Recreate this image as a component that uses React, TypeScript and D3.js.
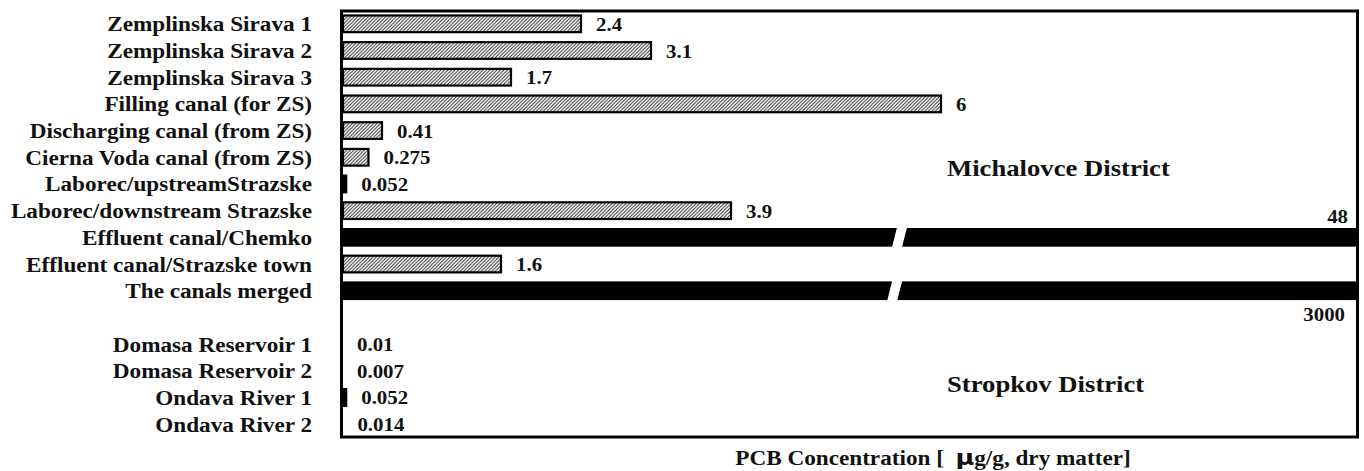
import React, { useEffect } from "react";
import * as d3 from "d3";

// ---- data ----
const michalovceSites = [
  "Zemplinska Sirava 1",
  "Zemplinska Sirava 2",
  "Zemplinska Sirava 3",
  "Filling canal (for ZS)",
  "Discharging canal (from ZS)",
  "Cierna Voda canal (from ZS)",
  "Laborec/upstreamStrazske",
  "Laborec/downstream Strazske",
  "Effluent canal/Chemko",
  "Effluent canal/Strazske town",
  "The canals merged",
];
const michalovceValues = [2.4, 3.1, 1.7, 6, 0.41, 0.275, 0.052, 3.9, 48, 1.6, 3000];
const michalovceLabels = ["2.4", "3.1", "1.7", "6", "0.41", "0.275", "0.052", "3.9", "48", "1.6", "3000"];

const stropkovSites = ["Domasa Reservoir 1", "Domasa Reservoir 2", "Ondava River 1", "Ondava River 2"];
const stropkovValues = [0.01, 0.007, 0.052, 0.014];
const stropkovLabels = ["0.01", "0.007", "0.052", "0.014"];

const districtNames = ["Michalovce District", "Stropkov District"];
const axisTitleParts = ["PCB Concentration [  ", "\u00b5", "g/g, dry matter]"];

const xDomainMax = 10.15;
const breakValue = 5.575;

const W = 1364;
const H = 471;
const FONT = "'Liberation Serif', 'Times New Roman', serif";
const SX = 1.16;
const GAP = "__gap__";

export default function App() {
  useEffect(() => {
    document.body.style.margin = "0";
  }, []);

  const rows = [
    ...michalovceSites.map((s, i) => ({ site: s, value: michalovceValues[i], label: michalovceLabels[i] })),
    ...stropkovSites.map((s, i) => ({ site: s, value: stropkovValues[i], label: stropkovLabels[i] })),
  ];
  const domain = [...michalovceSites, GAP, ...stropkovSites];

  const left = 342;
  const right = 1357;
  const top = 11;
  const bottom = 437;

  const x = d3.scaleLinear().domain([0, xDomainMax]).range([left, right]).clamp(true);
  const y = d3.scaleBand<string>().domain(domain).range([top, bottom]).paddingInner(0.3).paddingOuter(0.13);
  const bw = y.bandwidth();

  const x0 = x(0);
  const xb = x(breakValue);
  const firstBroken = rows.findIndex((r) => r.value > xDomainMax);
  const yRef = firstBroken >= 0 ? (y(rows[firstBroken].site) as number) + bw / 2 : 0;

  const stretched = (tx: number, ty: number) => `translate(${tx},${ty}) scale(${SX},1)`;

  return (
    <svg width={W} height={H} style={{ display: "block", background: "#fff" }}>
      <defs>
        <pattern id="hatch" patternUnits="userSpaceOnUse" width={3.5} height={3.5}>
          <rect width={3.5} height={3.5} fill="#fff" />
          <path d="M-1,1 L1,-1 M0,3.5 L3.5,0 M2.5,4.5 L4.5,2.5" stroke="#222" strokeWidth={0.9} />
        </pattern>
      </defs>

      {rows.map((r, i) => {
        const yy = y(r.site) as number;
        const cy = yy + bw / 2;
        const broken = r.value > xDomainMax;
        const xe = x(r.value);
        const tiny = x(r.value) - x0 < 3;
        return (
          <g key={i}>
            {broken ? (
              <g>
                <rect x={x0} y={yy} width={right - x0} height={bw} fill="#000" />
                {(() => {
                  const c = xb - (cy - yRef) * 0.09;
                  const s = 2.6;
                  const g = 5;
                  const pts = [
                    [c - g + s, yy - 1],
                    [c + g + s, yy - 1],
                    [c + g - s, yy + bw + 1],
                    [c - g - s, yy + bw + 1],
                  ];
                  return <polygon points={pts.map((p) => p.join(",")).join(" ")} fill="#fff" />;
                })()}
              </g>
            ) : tiny ? (
              xe - x0 > 1.5 ? <rect x={x0} y={yy} width={xe - x0} height={bw} fill="#000" /> : null
            ) : (
              <rect
                x={x0 + 1}
                y={yy + 1}
                width={Math.max(0, xe - x0 - 2)}
                height={bw - 2}
                fill={xe - x0 < 8 ? "#000" : "url(#hatch)"}
                stroke="#000"
                strokeWidth={2.2}
              />
            )}
            <text
              transform={stretched(312, cy + 7.5)}
              textAnchor="end"
              fontFamily={FONT}
              fontWeight="bold"
              fontSize={20}
              fill="#111"
            >
              {r.site}
            </text>
            {broken ? (
              <text
                transform={
                  i === firstBroken
                    ? stretched(right - 9, yy - 5)
                    : stretched(right - 12, yy + bw + 21)
                }
                textAnchor="end"
                fontFamily={FONT}
                fontWeight="bold"
                fontSize={18}
                fill="#111"
              >
                {r.label}
              </text>
            ) : (
              <text
                transform={stretched(Math.max(xe, x0 + 1) + 14, cy + 7)}
                fontFamily={FONT}
                fontWeight="bold"
                fontSize={18}
                fill="#111"
              >
                {r.label}
              </text>
            )}
          </g>
        );
      })}

      <rect
        x={left - 0.5}
        y={top}
        width={right - left + 1}
        height={bottom - top}
        fill="none"
        stroke="#000"
        strokeWidth={3}
      />

      <text transform={stretched(947, 176)} fontFamily={FONT} fontWeight="bold" fontSize={23} fill="#111">
        {districtNames[0]}
      </text>
      <text transform={stretched(947, 392)} fontFamily={FONT} fontWeight="bold" fontSize={23} fill="#111">
        {districtNames[1]}
      </text>

      <text
        transform={stretched(933, 465)}
        textAnchor="middle"
        fontFamily={FONT}
        fontWeight="bold"
        fontSize={20}
        fill="#111"
        style={{ whiteSpace: "pre" }}
        xmlSpace="preserve"
      >
        <tspan>{axisTitleParts[0]}</tspan>
        <tspan fontFamily="'DejaVu Sans', sans-serif" fontSize={22}>{axisTitleParts[1]}</tspan>
        <tspan>{axisTitleParts[2]}</tspan>
      </text>
    </svg>
  );
}
